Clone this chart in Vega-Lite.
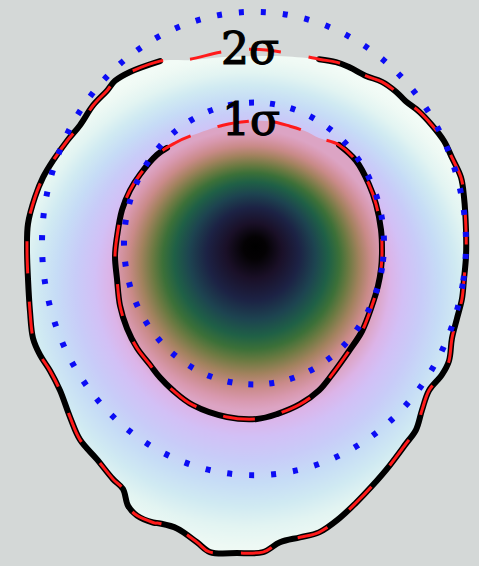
{
  "$schema": "https://vega.github.io/schema/vega-lite/v6.json",
  "width": 479,
  "height": 566,
  "autosize": {"type": "fit", "contains": "padding"},
  "padding": 0,
  "background": "#d4d8d7",
  "config": {"view": {"stroke": null}},
  "datasets": {
    "fill": [
      {"x":160,"y":62},{"x":190,"y":61},{"x":220,"y":58},{"x":250,"y":57},{"x":283,"y":57},{"x":319,"y":60},{"x":336,"y":63},{"x":349,"y":68},{"x":366,"y":77},{"x":382,"y":83},{"x":396,"y":93},{"x":406,"y":103},{"x":419,"y":113},{"x":432,"y":127},{"x":444,"y":143},{"x":452,"y":160},{"x":461,"y":180},{"x":464,"y":200},{"x":466,"y":233},{"x":466,"y":260},{"x":464,"y":283},{"x":462,"y":303},{"x":457,"y":323},{"x":452,"y":343},{"x":449,"y":366},{"x":442,"y":380},{"x":429,"y":396},{"x":422,"y":416},{"x":416,"y":436},{"x":406,"y":450},{"x":389,"y":473},{"x":372,"y":493},{"x":356,"y":510},{"x":339,"y":526},{"x":319,"y":540},{"x":300,"y":545},{"x":280,"y":550},{"x":263,"y":560},{"x":237,"y":561},{"x":210,"y":560},{"x":197,"y":550},{"x":177,"y":536},{"x":160,"y":531},{"x":153,"y":530},{"x":137,"y":523},{"x":128,"y":513},{"x":123,"y":496},{"x":113,"y":486},{"x":97,"y":466},{"x":80,"y":446},{"x":70,"y":423},{"x":60,"y":396},{"x":50,"y":376},{"x":40,"y":360},{"x":33,"y":343},{"x":30,"y":316},{"x":28,"y":283},{"x":27,"y":253},{"x":28,"y":227},{"x":35,"y":200},{"x":43,"y":180},{"x":53,"y":163},{"x":67,"y":143},{"x":80,"y":127},{"x":93,"y":107},{"x":107,"y":92},{"x":115,"y":82},{"x":130,"y":73}
    ],
    "outer": [
      {"x":160,"y":62},{"x":190,"y":60},{"x":220,"y":53},{"x":250,"y":50},{"x":283,"y":53},{"x":319,"y":60},{"x":336,"y":63},{"x":349,"y":68},{"x":366,"y":77},{"x":382,"y":83},{"x":396,"y":93},{"x":406,"y":103},{"x":419,"y":113},{"x":432,"y":127},{"x":444,"y":143},{"x":452,"y":160},{"x":461,"y":180},{"x":464,"y":200},{"x":466,"y":233},{"x":466,"y":260},{"x":464,"y":283},{"x":462,"y":303},{"x":457,"y":323},{"x":452,"y":343},{"x":449,"y":366},{"x":442,"y":380},{"x":429,"y":396},{"x":422,"y":416},{"x":416,"y":436},{"x":406,"y":450},{"x":389,"y":473},{"x":372,"y":493},{"x":356,"y":510},{"x":339,"y":526},{"x":319,"y":540},{"x":300,"y":545},{"x":280,"y":550},{"x":263,"y":560},{"x":237,"y":561},{"x":210,"y":560},{"x":197,"y":550},{"x":177,"y":536},{"x":160,"y":531},{"x":153,"y":530},{"x":137,"y":523},{"x":128,"y":513},{"x":123,"y":496},{"x":113,"y":486},{"x":97,"y":466},{"x":80,"y":446},{"x":70,"y":423},{"x":60,"y":396},{"x":50,"y":376},{"x":40,"y":360},{"x":33,"y":343},{"x":30,"y":316},{"x":28,"y":283},{"x":27,"y":253},{"x":28,"y":227},{"x":35,"y":200},{"x":43,"y":180},{"x":53,"y":163},{"x":67,"y":143},{"x":80,"y":127},{"x":93,"y":107},{"x":107,"y":92},{"x":115,"y":82},{"x":130,"y":73}
    ],
    "outerBlack": [
      {"x":319,"y":60},{"x":336,"y":63},{"x":349,"y":68},{"x":366,"y":77},{"x":382,"y":83},{"x":396,"y":93},{"x":406,"y":103},{"x":419,"y":113},{"x":432,"y":127},{"x":444,"y":143},{"x":452,"y":160},{"x":461,"y":180},{"x":464,"y":200},{"x":466,"y":233},{"x":466,"y":260},{"x":464,"y":283},{"x":462,"y":303},{"x":457,"y":323},{"x":452,"y":343},{"x":449,"y":366},{"x":442,"y":380},{"x":429,"y":396},{"x":422,"y":416},{"x":416,"y":436},{"x":406,"y":450},{"x":389,"y":473},{"x":372,"y":493},{"x":356,"y":510},{"x":339,"y":526},{"x":319,"y":540},{"x":300,"y":545},{"x":280,"y":550},{"x":263,"y":560},{"x":237,"y":561},{"x":210,"y":560},{"x":197,"y":550},{"x":177,"y":536},{"x":160,"y":531},{"x":153,"y":530},{"x":137,"y":523},{"x":128,"y":513},{"x":123,"y":496},{"x":113,"y":486},{"x":97,"y":466},{"x":80,"y":446},{"x":70,"y":423},{"x":60,"y":396},{"x":50,"y":376},{"x":40,"y":360},{"x":33,"y":343},{"x":30,"y":316},{"x":28,"y":283},{"x":27,"y":253},{"x":28,"y":227},{"x":35,"y":200},{"x":43,"y":180},{"x":53,"y":163},{"x":67,"y":143},{"x":80,"y":127},{"x":93,"y":107},{"x":107,"y":92},{"x":115,"y":82},{"x":130,"y":73},{"x":160,"y":62}
    ],
    "inner": [
      {"x":250,"y":123},{"x":270,"y":123},{"x":290,"y":128},{"x":305,"y":133},{"x":319,"y":140},{"x":339,"y":147},{"x":356,"y":163},{"x":369,"y":187},{"x":376,"y":207},{"x":381,"y":233},{"x":382,"y":255},{"x":381,"y":273},{"x":378,"y":290},{"x":372,"y":310},{"x":362,"y":336},{"x":349,"y":356},{"x":332,"y":380},{"x":319,"y":396},{"x":300,"y":410},{"x":277,"y":420},{"x":257,"y":425},{"x":227,"y":423},{"x":193,"y":411},{"x":173,"y":396},{"x":160,"y":383},{"x":150,"y":370},{"x":137,"y":353},{"x":127,"y":333},{"x":120,"y":310},{"x":117,"y":283},{"x":115,"y":260},{"x":117,"y":240},{"x":122,"y":213},{"x":130,"y":193},{"x":140,"y":177},{"x":157,"y":157},{"x":175,"y":145},{"x":193,"y":137},{"x":223,"y":127}
    ],
    "innerBlack": [
      {"x":339,"y":147},{"x":356,"y":163},{"x":369,"y":187},{"x":376,"y":207},{"x":381,"y":233},{"x":382,"y":255},{"x":381,"y":273},{"x":378,"y":290},{"x":372,"y":310},{"x":362,"y":336},{"x":349,"y":356},{"x":332,"y":380},{"x":319,"y":396},{"x":300,"y":410},{"x":277,"y":420},{"x":257,"y":425},{"x":227,"y":423},{"x":193,"y":411},{"x":173,"y":396},{"x":160,"y":383},{"x":150,"y":370},{"x":137,"y":353},{"x":127,"y":333},{"x":120,"y":310},{"x":117,"y":283},{"x":115,"y":260},{"x":117,"y":240},{"x":122,"y":213},{"x":130,"y":193},{"x":140,"y":177},{"x":157,"y":157},{"x":167,"y":150}
    ],
    "ell1": [
      {"x":384,"y":247},{"x":382,"y":271.8},{"x":376.2,"y":295.9},{"x":366.6,"y":318.5},{"x":353.6,"y":338.9},{"x":337.6,"y":356.5},{"x":319,"y":370.8},{"x":298.5,"y":381.4},{"x":276.6,"y":387.8},{"x":254,"y":390},{"x":231.4,"y":387.8},{"x":209.5,"y":381.4},{"x":189,"y":370.8},{"x":170.4,"y":356.5},{"x":154.4,"y":338.9},{"x":141.4,"y":318.5},{"x":131.8,"y":295.9},{"x":126,"y":271.8},{"x":124,"y":247},{"x":126,"y":222.2},{"x":131.8,"y":198.1},{"x":141.4,"y":175.5},{"x":154.4,"y":155.1},{"x":170.4,"y":137.5},{"x":189,"y":123.2},{"x":209.5,"y":112.6},{"x":231.4,"y":106.2},{"x":254,"y":104},{"x":276.6,"y":106.2},{"x":298.5,"y":112.6},{"x":319,"y":123.2},{"x":337.6,"y":137.5},{"x":353.6,"y":155.1},{"x":366.6,"y":175.5},{"x":376.2,"y":198.1},{"x":382,"y":222.2}
    ],
    "ell2": [
      {"x":466,"y":247},{"x":462.8,"y":287.8},{"x":453.2,"y":327.4},{"x":437.6,"y":364.5},{"x":416.4,"y":398.1},{"x":390.3,"y":427},{"x":360,"y":450.5},{"x":326.5,"y":467.8},{"x":290.8,"y":478.4},{"x":254,"y":482},{"x":217.2,"y":478.4},{"x":181.5,"y":467.8},{"x":148,"y":450.5},{"x":117.7,"y":427},{"x":91.6,"y":398.1},{"x":70.4,"y":364.5},{"x":54.8,"y":327.4},{"x":45.2,"y":287.8},{"x":42,"y":247},{"x":45.2,"y":206.2},{"x":54.8,"y":166.6},{"x":70.4,"y":129.5},{"x":91.6,"y":95.9},{"x":117.7,"y":67},{"x":148,"y":43.5},{"x":181.5,"y":26.2},{"x":217.2,"y":15.6},{"x":254,"y":12},{"x":290.8,"y":15.6},{"x":326.5,"y":26.2},{"x":360,"y":43.5},{"x":390.3,"y":67},{"x":416.4,"y":95.9},{"x":437.6,"y":129.5},{"x":453.2,"y":166.6},{"x":462.8,"y":206.2}
    ],
    "labels": [
      {"x":250,"y":65,"label":"2σ"},
      {"x":251,"y":137,"label":"1σ"}
    ]
  },
  "encoding": {
    "x": {"field": "x", "type": "quantitative", "scale": {"domain": [0, 479], "nice": false, "zero": false}, "axis": null},
    "y": {"field": "y", "type": "quantitative", "scale": {"domain": [0, 566], "nice": false, "zero": false, "reverse": true}, "axis": null}
  },
  "layer": [
    {
      "data": {"name": "fill"},
      "mark": {
        "type": "line",
        "interpolate": "cardinal-closed",
        "strokeWidth": 0,
        "fill": {
          "gradient": "radial",
          "x1": 0.517, "y1": 0.383, "r1": 0,
          "x2": 0.4986, "y2": 0.5018, "r2": 0.508,
          "stops": [
            {"offset": 0, "color": "#d8a0bc"},
            {"offset": 0.509, "color": "#dca4c4"},
            {"offset": 0.556, "color": "#dcb4e8"},
            {"offset": 0.611, "color": "#d2c0f6"},
            {"offset": 0.685, "color": "#c8ccf8"},
            {"offset": 0.759, "color": "#c6dcf6"},
            {"offset": 0.833, "color": "#d0eaf2"},
            {"offset": 0.898, "color": "#e2f4f2"},
            {"offset": 0.963, "color": "#eef9f4"},
            {"offset": 1, "color": "#f2fbf6"}
          ]
        }
      },
      "encoding": {"order": {"value": null}}
    },
    {
      "data": {"name": "inner"},
      "mark": {
        "type": "line",
        "interpolate": "cardinal-closed",
        "strokeWidth": 0,
        "fill": {
          "gradient": "radial",
          "x1": 0.523, "y1": 0.42, "r1": 0,
          "x2": 0.5, "y2": 0.5, "r2": 0.47,
          "stops": [
            {"offset": 0, "color": "#000000"},
            {"offset": 0.08, "color": "#040204"},
            {"offset": 0.2, "color": "#1a1028"},
            {"offset": 0.33, "color": "#1c2244"},
            {"offset": 0.45, "color": "#1d4450"},
            {"offset": 0.55, "color": "#1f6046"},
            {"offset": 0.63, "color": "#3c7038"},
            {"offset": 0.7, "color": "#6c7a42"},
            {"offset": 0.78, "color": "#a2825e"},
            {"offset": 0.86, "color": "#c98a88"},
            {"offset": 0.94, "color": "#d898ae"},
            {"offset": 1, "color": "#dca4c4"}
          ]
        }
      },
      "encoding": {"order": {"value": null}}
    },
    {
      "data": {"name": "outerBlack"},
      "mark": {"type": "line", "interpolate": "catmull-rom", "color": "#000000", "strokeWidth": 6, "strokeCap": "round"},
      "encoding": {"order": {"value": null}}
    },
    {
      "data": {"name": "innerBlack"},
      "mark": {"type": "line", "interpolate": "catmull-rom", "color": "#000000", "strokeWidth": 6, "strokeCap": "round"},
      "encoding": {"order": {"value": null}}
    },
    {
      "data": {"name": "outer"},
      "mark": {"type": "line", "interpolate": "cardinal-closed", "color": "#ff1a1a", "strokeWidth": 3, "strokeDash": [32, 28]},
      "encoding": {"order": {"value": null}}
    },
    {
      "data": {"name": "inner"},
      "mark": {"type": "line", "interpolate": "cardinal-closed", "color": "#ff1a1a", "strokeWidth": 3, "strokeDash": [32, 28]},
      "encoding": {"order": {"value": null}}
    },
    {
      "data": {"name": "ell1"},
      "mark": {"type": "line", "interpolate": "cardinal-closed", "color": "#0c0cf4", "strokeWidth": 6, "strokeDash": [5, 16]},
      "encoding": {"order": {"value": null}}
    },
    {
      "data": {"name": "ell2"},
      "mark": {"type": "line", "interpolate": "cardinal-closed", "color": "#0c0cf4", "strokeWidth": 6, "strokeDash": [5, 17]},
      "encoding": {"order": {"value": null}}
    },
    {
      "data": {"name": "labels"},
      "mark": {"type": "text", "font": "DejaVu Serif", "fontSize": 44, "fontWeight": "normal", "color": "#000000", "stroke": "#000000", "strokeWidth": 1.2, "align": "center", "baseline": "alphabetic"},
      "encoding": {"text": {"field": "label"}}
    }
  ]
}
